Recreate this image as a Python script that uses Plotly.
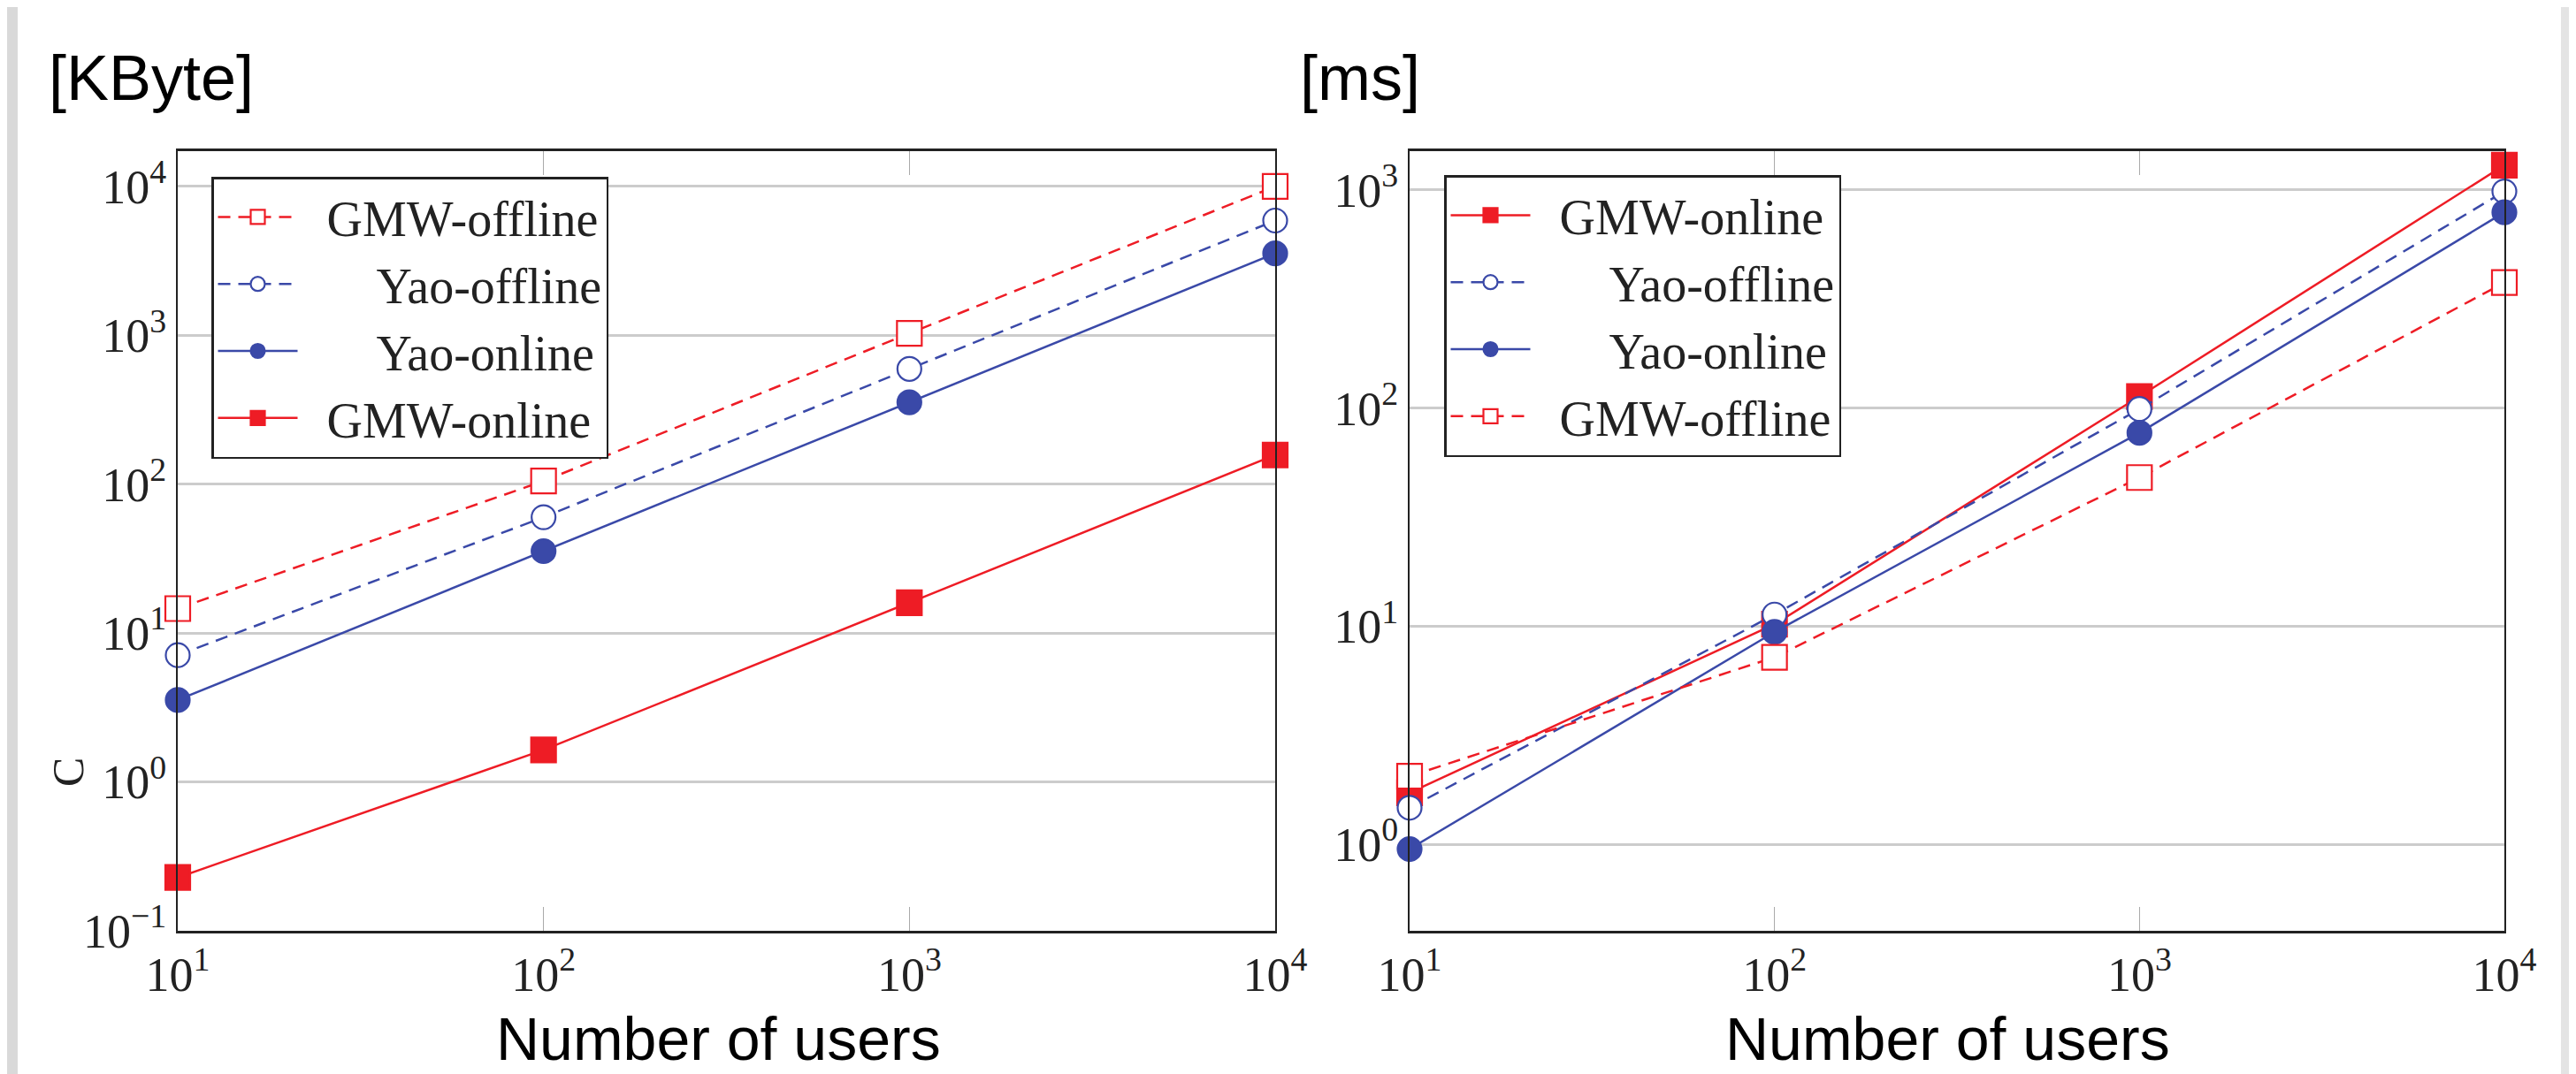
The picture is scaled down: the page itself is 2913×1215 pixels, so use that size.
import plotly.graph_objects as go

# ---------------- data ----------------
users = [10, 100, 1000, 10000]

# Left chart: communication [KByte]
kb_gmw_offline = [14.6, 105, 1030, 10000]
kb_yao_offline = [7.1, 60, 595, 5900]
kb_yao_online = [3.55, 35.5, 355, 3550]
kb_gmw_online = [0.228, 1.64, 16, 157]

# Right chart: runtime [ms]
ms_gmw_online = [1.72, 10.2, 113, 1300]
ms_yao_offline = [1.47, 11.3, 99, 985]
ms_yao_online = [0.95, 9.4, 77, 790]
ms_gmw_offline = [2.05, 7.2, 48, 376]

x_tickvals = [10, 100, 1000, 10000]
x_ticktext = ["10<sup>1</sup>", "10<sup>2</sup>", "10<sup>3</sup>", "10<sup>4</sup>"]
yl_tickvals = [0.1, 1, 10, 100, 1000, 10000]
yl_ticktext = ["10<sup>−1</sup>", "10<sup>0</sup>", "10<sup>1</sup>", "10<sup>2</sup>",
               "10<sup>3</sup>", "10<sup>4</sup>"]
yr_tickvals = [1, 10, 100, 1000]
yr_ticktext = ["10<sup>0</sup>", "10<sup>1</sup>", "10<sup>2</sup>", "10<sup>3</sup>"]

RED = "#ee1c25"
BLUE = "#3a49a8"
SERIF = "Liberation Serif"
SANS = "Liberation Sans"
W, H = 2913, 1215

styles = {
    "GMW-offline": dict(color=RED, dash="dash", symbol="square", fill="white"),
    "Yao-offline": dict(color=BLUE, dash="dash", symbol="circle", fill="white"),
    "Yao-online": dict(color=BLUE, dash="solid", symbol="circle", fill=BLUE),
    "GMW-online": dict(color=RED, dash="solid", symbol="square", fill=RED),
}
legend_names = {
    "GMW-offline": "&nbsp;&nbsp;GMW-offline",
    "Yao-offline": "&nbsp;&nbsp;&nbsp;&nbsp;&nbsp;&nbsp;Yao-offline",
    "Yao-online": "&nbsp;&nbsp;&nbsp;&nbsp;&nbsp;&nbsp;Yao-online",
    "GMW-online": "&nbsp;&nbsp;GMW-online",
}

fig = go.Figure()


def add(name, ys, xa, ya, legend):
    s = styles[name]
    fig.add_trace(go.Scatter(
        x=users, y=ys, name=legend_names[name], mode="lines+markers",
        xaxis=xa, yaxis=ya, legend=legend, cliponaxis=False,
        line=dict(color=s["color"], width=2.5,
                  dash="14px,9px" if s["dash"] == "dash" else "solid"),
        marker=dict(symbol=s["symbol"], size=28 if s["symbol"] == "square" else 27,
                    color=s["fill"], line=dict(color=s["color"], width=2.2)),
    ))


add("GMW-offline", kb_gmw_offline, "x", "y", "legend")
add("Yao-offline", kb_yao_offline, "x", "y", "legend")
add("Yao-online", kb_yao_online, "x", "y", "legend")
add("GMW-online", kb_gmw_online, "x", "y", "legend")

add("GMW-online", ms_gmw_online, "x2", "y2", "legend2")
add("Yao-offline", ms_yao_offline, "x2", "y2", "legend2")
add("Yao-online", ms_yao_online, "x2", "y2", "legend2")
add("GMW-offline", ms_gmw_offline, "x2", "y2", "legend2")

xl_dom = [193 / W, 1434 / W]
xr_dom = [1586 / W, 2824 / W]
y_dom = [1 - 1045 / H, 1 - 163 / H]

xaxis_common = dict(
    type="log", range=[1, 4], tickvals=x_tickvals, ticktext=x_ticktext,
    automargin=False,
    showgrid=False, zeroline=False, showline=True, linecolor="#222", linewidth=2.5,
    mirror="allticks", ticks="inside", ticklen=27, tickwidth=1, tickcolor="#aaaaaa",
    tickfont=dict(family=SERIF, size=54, color="#222"),
)
yaxis_common = dict(
    type="log", showgrid=True, gridcolor="#cccccc", gridwidth=3, zeroline=False,
    automargin=False,
    showline=True, linecolor="#222", linewidth=2, mirror=True, ticks="",
    tickfont=dict(family=SERIF, size=54, color="#222"),
)

legend_common = dict(
    bgcolor="white", bordercolor="#222", borderwidth=2.5,
    font=dict(family=SERIF, size=56, color="#222"),
    xanchor="left", yanchor="top", itemwidth=90, tracegroupgap=0,
    traceorder="normal",
)

fig.update_layout(
    width=W, height=H,
    margin=dict(l=0, r=0, t=0, b=0, autoexpand=False),
    paper_bgcolor="white", plot_bgcolor="white",
    xaxis=dict(domain=xl_dom, anchor="y", **xaxis_common),
    yaxis=dict(domain=y_dom, anchor="x", range=[-1, 4.237],
               tickvals=yl_tickvals, ticktext=yl_ticktext, **yaxis_common),
    xaxis2=dict(domain=xr_dom, anchor="y2", **xaxis_common),
    yaxis2=dict(domain=y_dom, anchor="x2", range=[-0.397, 3.178],
                tickvals=yr_tickvals, ticktext=yr_ticktext, **yaxis_common),
    legend=dict(x=231 / W, y=1 - 192 / H, **legend_common),
    legend2=dict(x=1625 / W, y=1 - 190 / H, **legend_common),
    showlegend=True,
    shapes=[
        dict(type="rect", xref="paper", yref="paper", x0=0, x1=12 / W, y0=0, y1=1,
             fillcolor="#d9d9d9", line=dict(width=0), layer="below"),
        dict(type="rect", xref="paper", yref="paper", x0=2888 / W, x1=1, y0=0, y1=1,
             fillcolor="#e4e4e4", line=dict(width=0), layer="below"),
    ],
    annotations=[
        dict(text="[KByte]", xref="paper", yref="paper", x=45 / W, y=1 - 80 / H,
             xanchor="left", yanchor="middle", showarrow=False,
             font=dict(family=SANS, size=72, color="black")),
        dict(text="[ms]", xref="paper", yref="paper", x=1460 / W, y=1 - 80 / H,
             xanchor="left", yanchor="middle", showarrow=False,
             font=dict(family=SANS, size=72, color="black")),
        dict(text="Number of users", xref="paper", yref="paper", x=804 / W, y=8 / H,
             xanchor="center", yanchor="bottom", showarrow=False,
             font=dict(family=SANS, size=68, color="black")),
        dict(text="Number of users", xref="paper", yref="paper", x=2194 / W, y=8 / H,
             xanchor="center", yanchor="bottom", showarrow=False,
             font=dict(family=SANS, size=68, color="black")),
        dict(text="C", xref="paper", yref="paper", x=69 / W, y=1 - 866 / H,
             xanchor="center", yanchor="middle", showarrow=False, textangle=-90,
             font=dict(family=SERIF, size=50, color="#222")),
    ],
)

fig.write_html("out.html")
